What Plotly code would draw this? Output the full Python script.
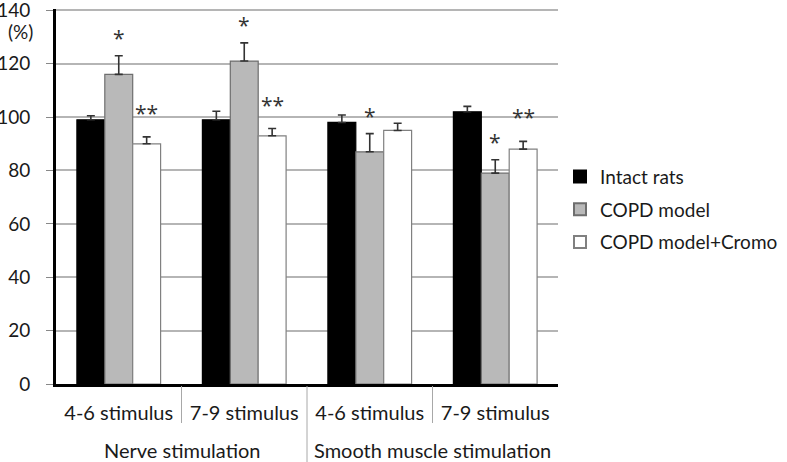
import plotly.graph_objects as go

outer_labels = ["Nerve stimulation", "Smooth muscle stimulation"]
outer_of = [0, 0, 1, 1]
inner = ["4-6 stimulus", "7-9 stimulus", "4-6 stimulus", "7-9 stimulus"]

series_names = ["Intact rats", "COPD model", "COPD model+Cromo"]
intact = [99, 99, 98, 102]
copd = [116, 121, 87, 79]
cromo = [90, 93, 95, 88]
intact_err = [1.5, 3.2, 2.8, 2.0]
copd_err = [7.0, 6.8, 6.8, 5.0]
cromo_err = [2.6, 2.7, 2.7, 2.9]
intact_sig = ["", "", "", ""]
copd_sig = ["*", "*", "*", "*"]
cromo_sig = ["**", "**", "", "**"]

y_ticks = [0, 20, 40, 60, 80, 100, 120, 140]

FONT = "Lato, Open Sans, sans-serif"
SIGFONT = "Open Sans, DejaVu Sans, sans-serif"
TXT = "#1a1a1a"
fills = ["#000000", "#b9b9b9", "#ffffff"]
lines = ["#000000", "#6e6e6e", "#808080"]
sig_lift = [2, 2, 8]
BARGAP = 0.333

xpos = list(range(len(inner)))

fig = go.Figure()
all_vals = [intact, copd, cromo]
all_errs = [intact_err, copd_err, cromo_err]
all_sigs = [intact_sig, copd_sig, cromo_sig]
for k, (name, vals, errs, fc, lc) in enumerate(zip(series_names, all_vals, all_errs, fills, lines)):
    fig.add_trace(go.Bar(
        x=xpos, y=vals, name=name, legendgroup=name,
        marker=dict(color=fc, line=dict(color=lc, width=1.2)),
        error_y=dict(type="data", symmetric=False, array=errs,
                     arrayminus=[0] * len(errs), color="#333333",
                     thickness=1.6, width=4),
    ))

# significance marks centred over their bars
nser = len(series_names)
bw = (1 - BARGAP) / nser
for k in range(nser):
    for i in xpos:
        s = all_sigs[k][i]
        if not s:
            continue
        fig.add_annotation(
            x=i + (k - (nser - 1) / 2) * bw, y=all_vals[k][i] + all_errs[k][i],
            xref="x", yref="y", text=s, showarrow=False, yanchor="bottom",
            yshift=sig_lift[k], font=dict(family=SIGFONT, size=21, color="#333333"),
        )

# outer group labels and separators
for g, lab in enumerate(outer_labels):
    members = [i for i in xpos if outer_of[i] == g]
    fig.add_annotation(x=sum(members) / len(members), y=0, xref="x", yref="y",
                       text=lab, showarrow=False, yanchor="middle", yshift=-66,
                       font=dict(family=FONT, size=20, color=TXT))
for i in xpos[:-1]:
    long_sep = outer_of[i] != outer_of[i + 1]
    fig.add_shape(type="line", xref="x", yref="paper", ysizemode="pixel", yanchor=0,
                  x0=i + 0.5, x1=i + 0.5, y0=-2, y1=-80 if long_sep else -39,
                  line=dict(color="#a8a8a8", width=1))

fig.add_annotation(x=0, y=132.2, xref="paper", yref="y", text="(%)",
                   showarrow=False, xanchor="right", xshift=-21,
                   font=dict(family=FONT, size=19, color=TXT))

fig.update_layout(
    width=787, height=462,
    margin=dict(l=56, r=229, t=9, b=78, autoexpand=False),
    paper_bgcolor="white", plot_bgcolor="white",
    barmode="group", bargap=BARGAP, bargroupgap=0,
    font=dict(family=FONT, size=20, color=TXT),
    showlegend=True,
    legend=dict(x=1.004, y=0.465, xanchor="left", yanchor="middle",
                font=dict(family=FONT, size=19, color=TXT),
                tracegroupgap=5, traceorder="grouped", itemsizing="constant"),
    xaxis=dict(range=[-0.5, len(inner) - 0.5], tickvals=xpos, ticktext=inner,
               showline=True, linecolor="black", linewidth=3, ticks="",
               ticklabelstandoff=9, automargin=False,
               tickfont=dict(family=FONT, size=20, color=TXT),
               showgrid=False, zeroline=False),
    yaxis=dict(range=[0, 140.5], tickvals=y_ticks, showline=True, linecolor="black",
               linewidth=3, ticks="outside", ticklen=7, tickcolor="#888888",
               showgrid=True, gridcolor="#b5b5b5", gridwidth=1.5, automargin=False,
               tickfont=dict(family=FONT, size=19, color=TXT),
               ticklabeloverflow="allow",
               ticklabelstandoff=12, zeroline=False),
)

fig.write_html("out.html", config={"displayModeBar": False},
               post_script="document.body.style.margin='0';")
